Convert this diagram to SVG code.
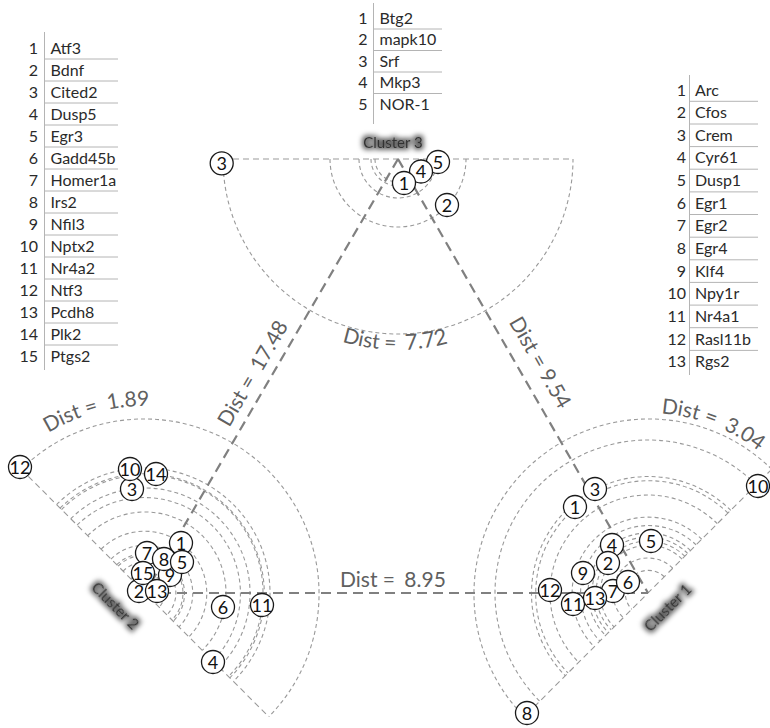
<svg xmlns="http://www.w3.org/2000/svg" width="770" height="728" viewBox="0 0 770 728">
<defs>
<style>
.arc{fill:none;stroke:#999;stroke-width:1.1;stroke-dasharray:4 3}
.dia{fill:none;stroke:#999;stroke-width:1.1;stroke-dasharray:6 4}
.edge{fill:none;stroke:#808080;stroke-width:2.2;stroke-dasharray:10 6}
.node circle{fill:#fff;stroke:#1a1a1a;stroke-width:1.3}
.node text{font-family:Lato,"Liberation Sans",sans-serif;font-size:18px;fill:#111;text-anchor:middle}
.tbl text{font-family:Lato,"Liberation Sans",sans-serif;font-size:16px;fill:#2a2a2a}
.tbl .num{text-anchor:end}
.tline{stroke:#b4b4b4;stroke-width:1}
.dist{font-family:Lato,"Liberation Sans",sans-serif;font-size:21px;fill:#606060}
.clabel{font-family:Lato,"Liberation Sans",sans-serif;font-size:15px;fill:#333;text-anchor:middle}
</style>
<filter id="halo" x="-25%" y="-70%" width="150%" height="240%">
<feMorphology in="SourceAlpha" operator="dilate" radius="2" result="d"/>
<feGaussianBlur in="d" stdDeviation="2.5" result="b"/>
<feFlood flood-color="#000" flood-opacity="0.6"/>
<feComposite in2="b" operator="in" result="s"/>
<feMerge><feMergeNode in="s"/><feMergeNode in="SourceGraphic"/></feMerge>
</filter>
<path id="p772" d="M207,159 A191,191 0 0 0 589,159"/>
<path id="p189" d="M-16.95,499.5 A187,187 0 0 1 306.95,499.5"/>
<path id="p304" d="M478.86,531.44 A180,180 0 0 1 828,593"/>
</defs>
<rect width="770" height="728" fill="#fff"/>

<!-- tables -->
<g id="table-cluster2" class="tbl">
<line class="tline" x1="44.5" y1="32" x2="44.5" y2="370"/>
<g class="tline">
<line x1="44.5" y1="59" x2="118" y2="59"/><line x1="44.5" y1="81" x2="118" y2="81"/><line x1="44.5" y1="103" x2="118" y2="103"/><line x1="44.5" y1="125" x2="118" y2="125"/><line x1="44.5" y1="147" x2="118" y2="147"/><line x1="44.5" y1="169" x2="118" y2="169"/><line x1="44.5" y1="191" x2="118" y2="191"/><line x1="44.5" y1="213" x2="118" y2="213"/><line x1="44.5" y1="235" x2="118" y2="235"/><line x1="44.5" y1="257" x2="118" y2="257"/><line x1="44.5" y1="279" x2="118" y2="279"/><line x1="44.5" y1="301" x2="118" y2="301"/><line x1="44.5" y1="323" x2="118" y2="323"/><line x1="44.5" y1="345" x2="118" y2="345"/>
</g>
<text class="num" x="38" y="53.5">1</text><text x="50.5" y="53.5">Atf3</text>
<text class="num" x="38" y="75.5">2</text><text x="50.5" y="75.5">Bdnf</text>
<text class="num" x="38" y="97.5">3</text><text x="50.5" y="97.5">Cited2</text>
<text class="num" x="38" y="119.5">4</text><text x="50.5" y="119.5">Dusp5</text>
<text class="num" x="38" y="141.5">5</text><text x="50.5" y="141.5">Egr3</text>
<text class="num" x="38" y="163.5">6</text><text x="50.5" y="163.5">Gadd45b</text>
<text class="num" x="38" y="185.5">7</text><text x="50.5" y="185.5">Homer1a</text>
<text class="num" x="38" y="207.5">8</text><text x="50.5" y="207.5">Irs2</text>
<text class="num" x="38" y="229.5">9</text><text x="50.5" y="229.5">Nfil3</text>
<text class="num" x="38" y="251.5">10</text><text x="50.5" y="251.5">Nptx2</text>
<text class="num" x="38" y="273.5">11</text><text x="50.5" y="273.5">Nr4a2</text>
<text class="num" x="38" y="295.5">12</text><text x="50.5" y="295.5">Ntf3</text>
<text class="num" x="38" y="317.5">13</text><text x="50.5" y="317.5">Pcdh8</text>
<text class="num" x="38" y="339.5">14</text><text x="50.5" y="339.5">Plk2</text>
<text class="num" x="38" y="361.5">15</text><text x="50.5" y="361.5">Ptgs2</text>
</g>

<g id="table-cluster3" class="tbl">
<line class="tline" x1="373.5" y1="3" x2="373.5" y2="124"/>
<g class="tline">
<line x1="373.5" y1="29" x2="442" y2="29"/><line x1="373.5" y1="50.5" x2="442" y2="50.5"/><line x1="373.5" y1="72" x2="442" y2="72"/><line x1="373.5" y1="93.5" x2="442" y2="93.5"/>
</g>
<text class="num" x="367.5" y="23.5">1</text><text x="379.5" y="23.5">Btg2</text>
<text class="num" x="367.5" y="45">2</text><text x="379.5" y="45">mapk10</text>
<text class="num" x="367.5" y="66.5">3</text><text x="379.5" y="66.5">Srf</text>
<text class="num" x="367.5" y="88">4</text><text x="379.5" y="88">Mkp3</text>
<text class="num" x="367.5" y="109.5">5</text><text x="379.5" y="109.5">NOR-1</text>
</g>

<g id="table-cluster1" class="tbl">
<line class="tline" x1="689.5" y1="75" x2="689.5" y2="375"/>
<g class="tline">
<line x1="689.5" y1="101.3" x2="758" y2="101.3"/><line x1="689.5" y1="124" x2="758" y2="124"/><line x1="689.5" y1="146.6" x2="758" y2="146.6"/><line x1="689.5" y1="169.2" x2="758" y2="169.2"/><line x1="689.5" y1="191.9" x2="758" y2="191.9"/><line x1="689.5" y1="214.5" x2="758" y2="214.5"/><line x1="689.5" y1="237.2" x2="758" y2="237.2"/><line x1="689.5" y1="259.8" x2="758" y2="259.8"/><line x1="689.5" y1="282.4" x2="758" y2="282.4"/><line x1="689.5" y1="305.1" x2="758" y2="305.1"/><line x1="689.5" y1="327.7" x2="758" y2="327.7"/><line x1="689.5" y1="350.4" x2="758" y2="350.4"/>
</g>
<text class="num" x="686" y="95.5">1</text><text x="695" y="95.5">Arc</text>
<text class="num" x="686" y="118.1">2</text><text x="695" y="118.1">Cfos</text>
<text class="num" x="686" y="140.8">3</text><text x="695" y="140.8">Crem</text>
<text class="num" x="686" y="163.4">4</text><text x="695" y="163.4">Cyr61</text>
<text class="num" x="686" y="186.1">5</text><text x="695" y="186.1">Dusp1</text>
<text class="num" x="686" y="208.7">6</text><text x="695" y="208.7">Egr1</text>
<text class="num" x="686" y="231.3">7</text><text x="695" y="231.3">Egr2</text>
<text class="num" x="686" y="254">8</text><text x="695" y="254">Egr4</text>
<text class="num" x="686" y="276.6">9</text><text x="695" y="276.6">Klf4</text>
<text class="num" x="686" y="299.3">10</text><text x="695" y="299.3">Npy1r</text>
<text class="num" x="686" y="321.9">11</text><text x="695" y="321.9">Nr4a1</text>
<text class="num" x="686" y="344.5">12</text><text x="695" y="344.5">Rasl11b</text>
<text class="num" x="686" y="367.2">13</text><text x="695" y="367.2">Rgs2</text>
</g>

<!-- cluster arcs -->
<g id="cluster3-arcs">
<path class="dia" d="M223,159 H573"/>
<path class="arc" d="M375,159 A23,23 0 0 0 421,159"/>
<path class="arc" d="M371,159 A27,27 0 0 0 425,159"/>
<path class="arc" d="M359,159 A39,39 0 0 0 437,159"/>
<path class="arc" d="M330,159 A68,68 0 0 0 466,159"/>
<path class="arc" d="M223,159 A175,175 0 0 0 573,159"/>
</g>
<g id="cluster2-arcs">
<path class="dia" d="M21.26,469.26 L268.74,716.74"/>
<path class="arc" d="M21.26,469.26 A175,175 0 0 1 268.74,716.74"/>
<path class="arc" d="M56.61,504.61 A125,125 0 0 1 233.39,681.39"/>
<path class="arc" d="M60.15,508.15 A120,120 0 0 1 229.85,677.85"/>
<path class="arc" d="M61.56,509.56 A118,118 0 0 1 228.44,676.44"/>
<path class="arc" d="M70.75,518.75 A105,105 0 0 1 219.25,667.25"/>
<path class="arc" d="M77.12,525.12 A96,96 0 0 1 212.88,660.88"/>
<path class="arc" d="M87.72,535.72 A81,81 0 0 1 202.28,650.28"/>
<path class="arc" d="M101.16,549.16 A62,62 0 0 1 188.84,636.84"/>
<path class="arc" d="M111.06,559.06 A48,48 0 0 1 178.94,626.94"/>
<path class="arc" d="M116.72,564.72 A40,40 0 0 1 173.28,621.28"/>
<path class="arc" d="M118.13,566.13 A38,38 0 0 1 171.87,619.87"/>
<path class="arc" d="M123.08,571.08 A31,31 0 0 1 166.92,614.92"/>
<path class="arc" d="M130.86,578.86 A20,20 0 0 1 159.14,607.14"/>
<path class="arc" d="M136.51,584.51 A12,12 0 0 1 153.49,601.49"/>
</g>
<g id="cluster1-arcs">
<path class="dia" d="M771.74,469.26 L524.26,716.74"/>
<path class="arc" d="M771.74,469.26 A175,175 0 0 0 524.26,716.74"/>
<path class="arc" d="M756.19,484.81 A153,153 0 0 0 539.81,701.19"/>
<path class="arc" d="M730.73,510.27 A117,117 0 0 0 565.27,675.73"/>
<path class="arc" d="M727.9,513.1 A113,113 0 0 0 568.1,672.9"/>
<path class="arc" d="M717.3,523.7 A98,98 0 0 0 578.7,662.3"/>
<path class="arc" d="M701.74,539.26 A76,76 0 0 0 594.26,646.74"/>
<path class="arc" d="M696.08,544.92 A68,68 0 0 0 599.92,641.08"/>
<path class="arc" d="M690.43,550.57 A60,60 0 0 0 605.57,635.43"/>
<path class="arc" d="M687.6,553.4 A56,56 0 0 0 608.4,632.6"/>
<path class="arc" d="M684.77,556.23 A52,52 0 0 0 611.23,629.77"/>
<path class="arc" d="M681.94,559.06 A48,48 0 0 0 614.06,626.94"/>
<path class="arc" d="M672.75,568.25 A35,35 0 0 0 623.25,617.75"/>
<path class="arc" d="M664.26,576.74 A23,23 0 0 0 631.74,609.26"/>
</g>

<!-- connectors -->
<g id="connectors">
<path class="edge" d="M398,159 L145,593"/>
<path class="edge" d="M398,159 L648,593"/>
<path class="edge" d="M145,593 L648,593"/>
</g>

<!-- distance labels -->
<g id="distance-labels" class="dist">
<text><textPath href="#p772" startOffset="297" text-anchor="middle">Dist = <tspan dx="4" font-size="22">7.72</tspan></textPath></text>
<text><textPath href="#p189" startOffset="147" text-anchor="middle">Dist = <tspan dx="4">1.89</tspan></textPath></text>
<text><textPath href="#p304" startOffset="286" text-anchor="middle">Dist = <tspan dx="4">3.04</tspan></textPath></text>
<text x="340" y="587">Dist = <tspan dx="4">8.95</tspan></text>
<text transform="translate(259,377) rotate(-59.75)" text-anchor="middle">Dist = <tspan dx="4">17.48</tspan></text>
<text transform="translate(534,366) rotate(60.05)" text-anchor="middle">Dist = 9.54</text>
</g>

<!-- cluster labels -->
<g id="cluster-labels">
<text class="clabel" x="393" y="148" filter="url(#halo)">Cluster 3</text>
<text class="clabel" transform="translate(115,606) rotate(45)" y="5" filter="url(#halo)">Cluster 2</text>
<text class="clabel" transform="translate(668,608) rotate(-45)" y="5" filter="url(#halo)">Cluster 1</text>
</g>

<!-- cluster 3 nodes -->
<g id="c3-n3" class="node"><circle cx="221.7" cy="163.3" r="11.5"/><text x="221.7" y="169.8">3</text></g>
<g id="c3-n5" class="node"><circle cx="438" cy="162" r="11.5"/><text x="438" y="168.5">5</text></g>
<g id="c3-n4" class="node"><circle cx="421" cy="171.5" r="11.5"/><text x="421" y="178">4</text></g>
<g id="c3-n1" class="node"><circle cx="404" cy="183" r="11.5"/><text x="404" y="189.5">1</text></g>
<g id="c3-n2" class="node"><circle cx="447" cy="205" r="11.5"/><text x="447" y="211.5">2</text></g>

<!-- cluster 2 nodes -->
<g id="c2-n9" class="node"><circle cx="170" cy="575" r="11.5"/><text x="170" y="581.5">9</text></g>
<g id="c2-n7" class="node"><circle cx="147" cy="553" r="11.5"/><text x="147" y="559.5">7</text></g>
<g id="c2-n2" class="node"><circle cx="139" cy="591" r="11.5"/><text x="139" y="597.5">2</text></g>
<g id="c2-n1" class="node"><circle cx="181" cy="543" r="11.5"/><text x="181" y="549.5">1</text></g>
<g id="c2-n15" class="node"><circle cx="143" cy="573" r="11.5"/><text x="143" y="579.5">15</text></g>
<g id="c2-n13" class="node"><circle cx="157" cy="591" r="11.5"/><text x="157" y="597.5">13</text></g>
<g id="c2-n8" class="node"><circle cx="164" cy="559" r="11.5"/><text x="164" y="565.5">8</text></g>
<g id="c2-n5" class="node"><circle cx="182" cy="562" r="11.5"/><text x="182" y="568.5">5</text></g>
<g id="c2-n3" class="node"><circle cx="132" cy="489" r="11.5"/><text x="132" y="495.5">3</text></g>
<g id="c2-n10" class="node"><circle cx="130" cy="469" r="11.5"/><text x="130" y="475.5">10</text></g>
<g id="c2-n14" class="node"><circle cx="156" cy="474" r="11.5"/><text x="156" y="480.5">14</text></g>
<g id="c2-n12" class="node"><circle cx="20" cy="467" r="11.5"/><text x="20" y="473.5">12</text></g>
<g id="c2-n6" class="node"><circle cx="223" cy="607" r="11.5"/><text x="223" y="613.5">6</text></g>
<g id="c2-n11" class="node"><circle cx="262" cy="605" r="11.5"/><text x="262" y="611.5">11</text></g>
<g id="c2-n4" class="node"><circle cx="213" cy="662" r="11.5"/><text x="213" y="668.5">4</text></g>

<!-- cluster 1 nodes -->
<g id="c1-n4" class="node"><circle cx="612" cy="545" r="11.5"/><text x="612" y="551.5">4</text></g>
<g id="c1-n2" class="node"><circle cx="608" cy="563" r="11.5"/><text x="608" y="569.5">2</text></g>
<g id="c1-n9" class="node"><circle cx="583" cy="573" r="11.5"/><text x="583" y="579.5">9</text></g>
<g id="c1-n7" class="node"><circle cx="613" cy="591" r="11.5"/><text x="613" y="597.5">7</text></g>
<g id="c1-n6" class="node"><circle cx="628" cy="582" r="11.5"/><text x="628" y="588.5">6</text></g>
<g id="c1-n12" class="node"><circle cx="550" cy="590" r="11.5"/><text x="550" y="596.5">12</text></g>
<g id="c1-n11" class="node"><circle cx="573" cy="604" r="11.5"/><text x="573" y="610.5">11</text></g>
<g id="c1-n13" class="node"><circle cx="595" cy="598" r="11.5"/><text x="595" y="604.5">13</text></g>
<g id="c1-n1" class="node"><circle cx="575" cy="507" r="11.5"/><text x="575" y="513.5">1</text></g>
<g id="c1-n3" class="node"><circle cx="595" cy="489" r="11.5"/><text x="595" y="495.5">3</text></g>
<g id="c1-n5" class="node"><circle cx="651" cy="541" r="11.5"/><text x="651" y="547.5">5</text></g>
<g id="c1-n10" class="node"><circle cx="758" cy="486" r="11.5"/><text x="758" y="492.5">10</text></g>
<g id="c1-n8" class="node"><circle cx="527" cy="713" r="11.5"/><text x="527" y="719.5">8</text></g>
</svg>
